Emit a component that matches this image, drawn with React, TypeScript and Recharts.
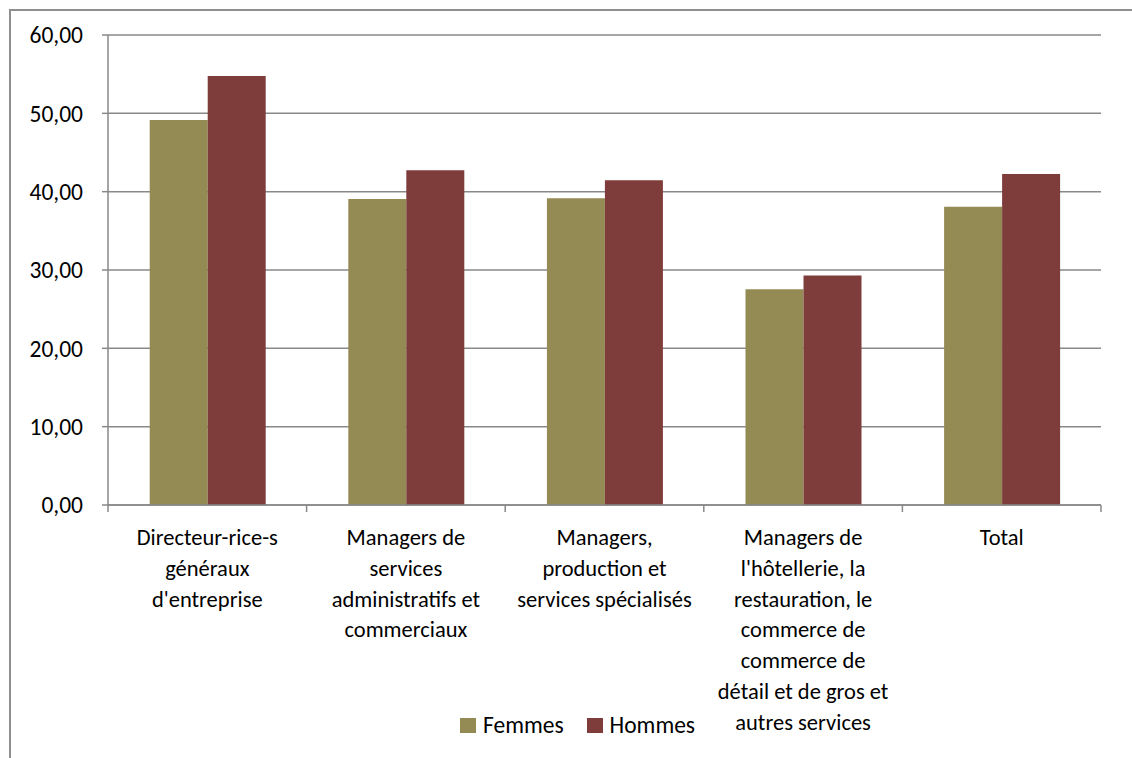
import { BarChart, Bar, XAxis, YAxis, CartesianGrid, Legend } from 'recharts'

const categories = [
  "Directeur-rice-s\ngénéraux\nd'entreprise",
  'Managers de\nservices\nadministratifs et\ncommerciaux',
  'Managers,\nproduction et\nservices spécialisés',
  "Managers de\nl'hôtellerie, la\nrestauration, le\ncommerce de\ncommerce de\ndétail et de gros et\nautres services",
  'Total',
]
const femmes = [49.15, 39.06, 39.15, 27.53, 38.08]
const hommes = [54.77, 42.72, 41.45, 29.3, 42.26]
const yTicks = [0, 10, 20, 30, 40, 50, 60]

const FONT = 'Carlito, Lato, sans-serif'
const GRAY = '#898989'
const OLIVE = '#948a54'
const MAROON = '#7e3c3a'

const data = categories.map((name, i) => ({ name, Femmes: femmes[i], Hommes: hommes[i] }))

// category labels are wrapped by hand like the original,
// tick marks sit on the category boundaries (Excel style)
function CategoryTick({ x, y, payload, width, visibleTicksCount, index }: any) {
  const lines = String(payload.value).split('\n')
  const half = Number(width) / (visibleTicksCount || 1) / 2
  const last = index === visibleTicksCount - 1
  return (
    <g>
      <line x1={x - half} x2={x - half} y1={y} y2={y + 7} stroke={GRAY} strokeWidth={1.5} />
      {last && <line x1={x + half} x2={x + half} y1={y} y2={y + 7} stroke={GRAY} strokeWidth={1.5} />}
      <text x={x} y={y} textAnchor="middle" fontSize={22.5} fontFamily={FONT} fill="#000">
        {lines.map((l, i) => (
          <tspan key={i} x={x} y={y + 40 + i * 30.8}>{l}</tspan>
        ))}
      </text>
    </g>
  )
}

function LegendContent() {
  const items = [
    { label: 'Femmes', color: OLIVE },
    { label: 'Hommes', color: MAROON },
  ]
  return (
    <div style={{ display: 'flex', alignItems: 'center', fontFamily: FONT, fontSize: 23.5, color: '#000' }}>
      {items.map((it) => (
        <div key={it.label} style={{ display: 'flex', alignItems: 'center', marginRight: 23 }}>
          <span style={{ width: 16, height: 15, background: it.color, marginRight: 7, display: 'inline-block' }} />
          <span>{it.label}</span>
        </div>
      ))}
    </div>
  )
}

export default function App() {
  return (
    <div style={{ position: 'relative', width: 1132, height: 758, overflow: 'hidden', background: '#fff' }}>
      <style>{`body{margin:0}`}</style>
      <div
        style={{
          position: 'absolute',
          left: 9,
          top: 9,
          width: 1200,
          height: 800,
          border: '2px solid #8f8f8f',
        }}
      />
      <div style={{ position: 'absolute', left: 0, top: 0 }}>
        <BarChart
          width={1132}
          height={758}
          data={data}
          margin={{ top: 35, right: 31, left: 0, bottom: 0 }}
          barCategoryGap="21%"
          barGap={0}
        >
          <CartesianGrid vertical={false} stroke={GRAY} strokeWidth={1.5} />
          <XAxis
            dataKey="name"
            height={253}
            stroke={GRAY}
            strokeWidth={1.5}
            tickLine={false}
            tickSize={0}
            tickMargin={0}
            interval={0}
            tick={<CategoryTick />}
          />
          <YAxis
            width={108}
            domain={[0, 60]}
            ticks={yTicks}
            tickSize={6}
            tickMargin={19}
            stroke={GRAY}
            strokeWidth={1.5}
            tick={{ fill: '#000', fontSize: 23.5, fontFamily: FONT }}
            tickFormatter={(v: number) => v.toFixed(2).replace('.', ',')}
          />
          <Legend
            verticalAlign="middle"
            align="center"
            content={<LegendContent />}
            wrapperStyle={{ top: 711, left: 460, width: 'auto', height: 'auto' }}
          />
          <Bar dataKey="Femmes" fill={OLIVE} isAnimationActive={false} />
          <Bar dataKey="Hommes" fill={MAROON} isAnimationActive={false} />
        </BarChart>
      </div>
    </div>
  )
}
